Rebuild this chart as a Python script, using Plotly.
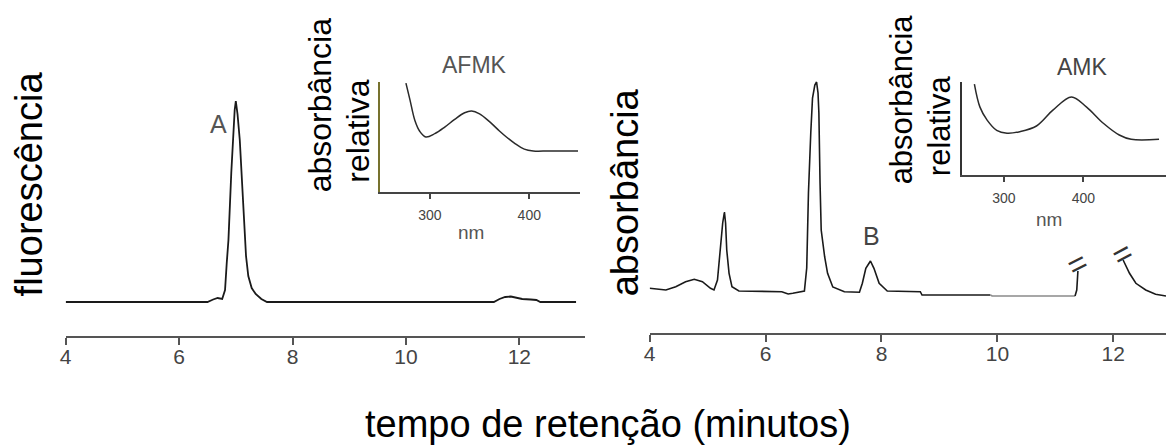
import plotly.graph_objects as go

W, H = 1166, 445

# ---------------- data ----------------
# left chromatogram (fluorescence), time in minutes, signal in arbitrary units
left_time = [4.00, 6.50, 6.60, 6.68, 6.76, 6.81, 6.84, 6.87, 6.92, 6.945, 6.98, 7.00,
             7.03, 7.07, 7.10, 7.15, 7.18, 7.22, 7.28, 7.35, 7.45, 7.55,
             11.55, 11.65, 11.75, 11.85, 11.95, 12.05, 12.20, 12.30, 12.37, 13.00]
left_signal = [34, 34, 36.5, 38, 37, 46, 73, 96, 163, 196, 226, 235,
               222, 196, 163, 110, 80, 60, 48, 42, 37, 34,
               34, 37, 39, 39.5, 38.5, 37, 36.5, 36, 34, 34]

# right chromatogram (absorbance)
right_time_a = [4.00, 4.28, 4.45, 4.62, 4.77, 4.91, 5.05, 5.11, 5.17, 5.22, 5.26, 5.29,
                5.31, 5.33, 5.37, 5.42, 5.54, 6.28, 6.39, 6.47, 6.67, 6.71, 6.74,
                6.78, 6.81, 6.85, 6.88, 6.905, 6.92, 6.94, 6.96, 7.02, 7.07, 7.16,
                7.36, 7.62, 7.67, 7.73, 7.81, 7.87, 7.96, 8.10, 8.67, 8.70, 9.88]
right_signal_a = [44.7, 43, 46.3, 51.3, 53.7, 51.3, 44.7, 43, 53, 86.3, 110, 121,
                  110, 83, 59.7, 46.3, 42, 41.3, 39, 39.7, 42, 65, 140,
                  200, 235, 248, 251, 240, 220, 150, 103, 76, 59.7, 46,
                  41.3, 40.7, 49.7, 64.7, 72, 64.7, 49.7, 42, 41.3, 38, 38]
right_time_b = [9.88, 9.91, 11.34]          # grey stretch of baseline
right_signal_b = [38, 37, 37]
right_time_c = [11.34, 11.37, 11.39]        # rise before the axis break
right_signal_c = [37, 43, 62]
right_time_d = [12.17, 12.28, 12.39, 12.56, 12.73, 12.91]   # after the break
right_signal_d = [73, 59.7, 49.7, 43, 38.7, 37]

# insets: UV spectra (relative absorbance)
afmk_nm = [276, 280, 285, 290, 296, 305, 315, 325, 335, 342, 350, 360, 370, 377,
           385, 395, 404, 420, 449]
afmk_abs = [0.99, 0.84, 0.65, 0.55, 0.50, 0.53, 0.59, 0.66, 0.72, 0.736, 0.71, 0.64,
            0.555, 0.50, 0.445, 0.39, 0.373, 0.373, 0.373]
amk_nm = [263, 270, 279, 291, 304, 320, 341, 362, 385, 404, 425, 445, 460, 495]
amk_abs = [0.978, 0.73, 0.59, 0.48, 0.45, 0.466, 0.527, 0.70, 0.84, 0.73, 0.556,
           0.43, 0.384, 0.384]

time_ticks = [4, 6, 8, 10, 12]
nm_ticks = [300, 400]

# ---------------- helpers ----------------
def px(x):
    return x / W


def py(y):
    return 1 - y / H


FONT = "Liberation Sans, Arial, sans-serif"
TRACE = "#1a1a1a"

fig = go.Figure()
fig.add_trace(go.Scatter(x=left_time, y=left_signal, xaxis="x", yaxis="y",
                         mode="lines", line=dict(color=TRACE, width=1.8)))
for t, s, c in [(right_time_a, right_signal_a, TRACE),
                (right_time_b, right_signal_b, "#8a8a8a"),
                (right_time_c, right_signal_c, TRACE),
                (right_time_d, right_signal_d, TRACE)]:
    fig.add_trace(go.Scatter(x=t, y=s, xaxis="x2", yaxis="y2", mode="lines",
                             line=dict(color=c, width=1.6)))
fig.add_trace(go.Scatter(x=afmk_nm, y=afmk_abs, xaxis="x3", yaxis="y3", mode="lines",
                         line=dict(color="#2a2a2a", width=1.5, shape="spline")))
fig.add_trace(go.Scatter(x=amk_nm, y=amk_abs, xaxis="x4", yaxis="y4", mode="lines",
                         line=dict(color="#2a2a2a", width=1.5, shape="spline")))

main_x = dict(showgrid=False, zeroline=False, showline=True, linecolor="#555",
              linewidth=2, ticks="outside", ticklen=7, tickwidth=2, tickcolor="#555",
              tickvals=time_ticks, tickfont=dict(family=FONT, size=21, color="#444"),
              ticklabelstandoff=-6, fixedrange=True)
inset_x = dict(showgrid=False, zeroline=False, showline=True, linecolor="#444",
               linewidth=1.5, ticks="outside", ticklen=5, tickwidth=1.5, tickcolor="#444",
               tickvals=nm_ticks, tickfont=dict(family=FONT, size=14, color="#444"),
               ticklabelstandoff=4)
hidden_y = dict(visible=False, showgrid=False, zeroline=False)

fig.update_layout(
    width=W, height=H, autosize=False,
    margin=dict(l=0, r=0, t=0, b=0),
    paper_bgcolor="white", plot_bgcolor="rgba(0,0,0,0)",
    showlegend=False,
    font=dict(family=FONT, color="black"),
    xaxis=dict(main_x, domain=[px(60), px(582)], range=[4, 4 + (582 - 60) / 57], anchor="y"),
    yaxis=dict(hidden_y, domain=[py(336), py(60)], range=[0, 276], anchor="x"),
    xaxis2=dict(main_x, domain=[px(647), 1.0], range=[4, 4 + 519 / 58.25], anchor="y2"),
    yaxis2=dict(hidden_y, domain=[py(333), py(60)], range=[0, 273], anchor="x2"),
    xaxis3=dict(inset_x, domain=[px(376), px(577)], range=[250, 451], anchor="y3"),
    yaxis3=dict(domain=[py(192), py(82)], range=[0, 1], anchor="x3", showgrid=False,
                zeroline=False, showline=True, linecolor="#77722e", linewidth=2,
                showticklabels=False, ticks=""),
    xaxis4=dict(inset_x, domain=[px(961), 1.0], range=[247.5, 503.75], anchor="y4"),
    yaxis4=dict(domain=[py(175), py(82)], range=[0, 1], anchor="x4", showgrid=False,
                zeroline=False, showline=True, linecolor="#333", linewidth=1.5,
                showticklabels=False, ticks=""),
)


def ann(text, x, y, size, color="black", angle=0, xref="paper", yref="paper"):
    fig.add_annotation(text=text, x=x, y=y, xref=xref, yref=yref, showarrow=False,
                       textangle=angle, xanchor="center", yanchor="middle",
                       font=dict(family=FONT, size=size, color=color))


# main axis titles
ann("fluorescência", px(23), py(183.5), 38, angle=-90)
ann("absorbância", px(622), py(192.5), 38, angle=-90)
ann("tempo de retenção (minutos)", px(605), py(424), 38)

# inset titles
ann("absorbância", px(316), py(105), 32, angle=-90)
ann("relativa", px(353), py(131.5), 32, angle=-90)
ann("absorbância", px(900), py(99), 31, angle=-90)
ann("relativa", px(938), py(126), 31, angle=-90)
ann("AFMK", px(471), py(65), 23, color="#555")
ann("AMK", px(1082), py(67), 23, color="#444")
ann("nm", px(467), py(232), 19, color="#555")
ann("nm", px(1048), py(219), 19, color="#555")

# peak labels
ann("A", 6.70, 212, 25, color="#555", xref="x", yref="y")
ann("B", 7.83, 97, 25, color="#444", xref="x2", yref="y2")

# axis-break marks
ann("=", 11.38, 69, 32, color="#333", angle=-27, xref="x2", yref="y2")
ann("=", 12.155, 79, 32, color="#333", angle=-28, xref="x2", yref="y2")

fig.write_html("out.html")
